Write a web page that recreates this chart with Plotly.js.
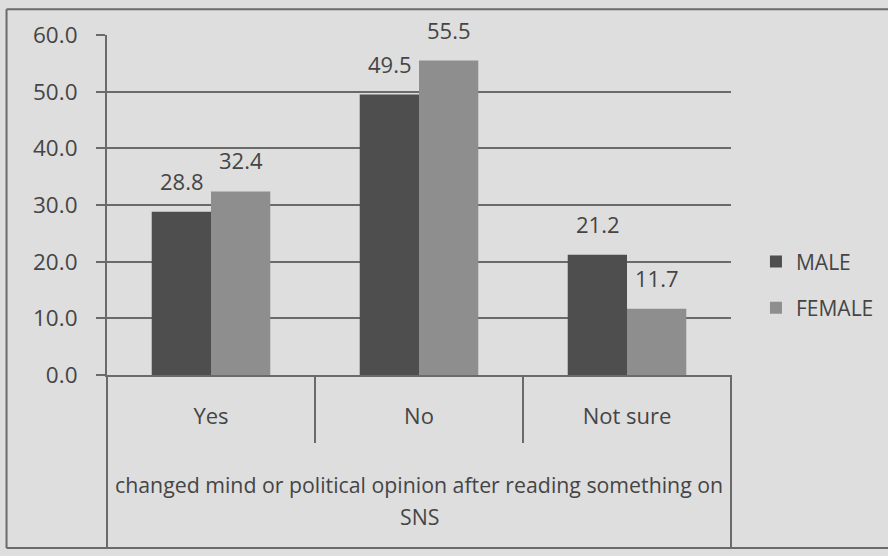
<!DOCTYPE html>
<html>
<head>
<meta charset="utf-8">
<script src="https://cdn.plot.ly/plotly-3.0.1.min.js"></script>
<style>
  html, body { margin: 0; padding: 0; background: #dedede; }
  #chart { width: 888px; height: 556px; }
</style>
</head>
<body>
<div id="chart"></div>
<script>
// Survey answers split by gender (percent)
const categories = ["Yes", "No", "Not sure"];
const maleValues = [28.8, 49.5, 21.2];
const femaleValues = [32.4, 55.5, 11.7];
const seriesNames = ["MALE", "FEMALE"];
const groupTitleLines = ["changed mind or political opinion after reading something on", "SNS"];

const textColor = "#454545";
const lineColor = "#6a6a6a";
const fontFamily = "Open Sans, Noto Sans, sans-serif";

const traces = [
  {
    type: "bar", name: seriesNames[0], x: categories, y: maleValues,
    marker: { color: "#4e4e4e" }, legendgroup: "m", hoverinfo: "skip"
  },
  {
    type: "bar", name: seriesNames[1], x: categories, y: femaleValues,
    marker: { color: "#8e8e8e" }, legendgroup: "f", hoverinfo: "skip"
  }
];

// Value labels above each bar, offset half a bar to the left/right of the category centre
const barShift = 29.5;
const annotations = [];
[maleValues, femaleValues].forEach((vals, s) => {
  vals.forEach((v, i) => {
    annotations.push({
      x: categories[i], y: v, xref: "x", yref: "y",
      text: v.toFixed(1), showarrow: false,
      xshift: s === 0 ? -barShift : barShift, yshift: 14,
      yanchor: "bottom",
      font: { size: 22, color: textColor, family: fontFamily }
    });
  });
});
// Outer category caption (two lines)
annotations.push({
  x: 0.5, y: 0, xref: "paper", yref: "paper", text: groupTitleLines[0],
  showarrow: false, yanchor: "middle", yshift: -109,
  font: { size: 21.3, color: textColor, family: fontFamily }
});
annotations.push({
  x: 0.5, y: 0, xref: "paper", yref: "paper", text: groupTitleLines[1],
  showarrow: false, yanchor: "middle", yshift: -141,
  font: { size: 21.3, color: textColor, family: fontFamily }
});

const line = (x0, y0, x1, y1, xref, yref, w) => ({
  type: "line", x0, y0, x1, y1, xref: xref || "paper", yref: yref || "paper",
  line: { color: lineColor, width: w || 2 }, layer: "above"
});

const shapes = [
  // extended value axis and right edge of the category box
  line(0, 0, 0, -0.506),
  line(1, 0, 1, -0.506),
  // separators between the inner categories
  line(0.5, 0, 0.5, -0.2, "x", "paper"),
  line(1.5, 0, 1.5, -0.2, "x", "paper"),
  // outer chart frame
  line(-0.161, 1.076, 1.3, 1.076, "paper", "paper", 2),
  line(-0.161, 1.076, -0.161, -0.509, "paper", "paper", 2),
  line(-0.161, -0.509, 1.3, -0.509, "paper", "paper", 2)
];

const layout = {
  width: 888, height: 556,
  margin: { l: 107, r: 157, t: 35, b: 181, autoexpand: false },
  paper_bgcolor: "#dedede",
  plot_bgcolor: "#dedede",
  font: { family: fontFamily, color: textColor, size: 21 },
  barmode: "group",
  bargap: 0.43,
  bargroupgap: 0,
  showlegend: true,
  legend: {
    x: 1.04, y: 0.265, xanchor: "left", yanchor: "middle",
    bgcolor: "rgba(0,0,0,0)",
    font: { size: 21, color: textColor, family: fontFamily },
    tracegroupgap: 16, traceorder: "grouped"
  },
  xaxis: {
    type: "category", range: [-0.5, 2.5],
    showline: true, linecolor: lineColor, linewidth: 2,
    ticks: "", showgrid: false, zeroline: false,
    tickfont: { size: 22, color: textColor, family: fontFamily },
    ticklabelstandoff: 21, fixedrange: true
  },
  yaxis: {
    range: [0, 60], dtick: 10, tickformat: ".1f",
    showline: true, linecolor: lineColor, linewidth: 2,
    ticks: "outside", ticklen: 9, tickwidth: 2, tickcolor: lineColor,
    showgrid: true, gridcolor: lineColor, gridwidth: 2,
    zeroline: false,
    tickfont: { size: 22.5, color: textColor, family: fontFamily },
    ticklabelstandoff: 14, fixedrange: true
  },
  annotations, shapes
};

Plotly.newPlot("chart", traces, layout, { displayModeBar: false, staticPlot: true });
</script>
</body>
</html>
